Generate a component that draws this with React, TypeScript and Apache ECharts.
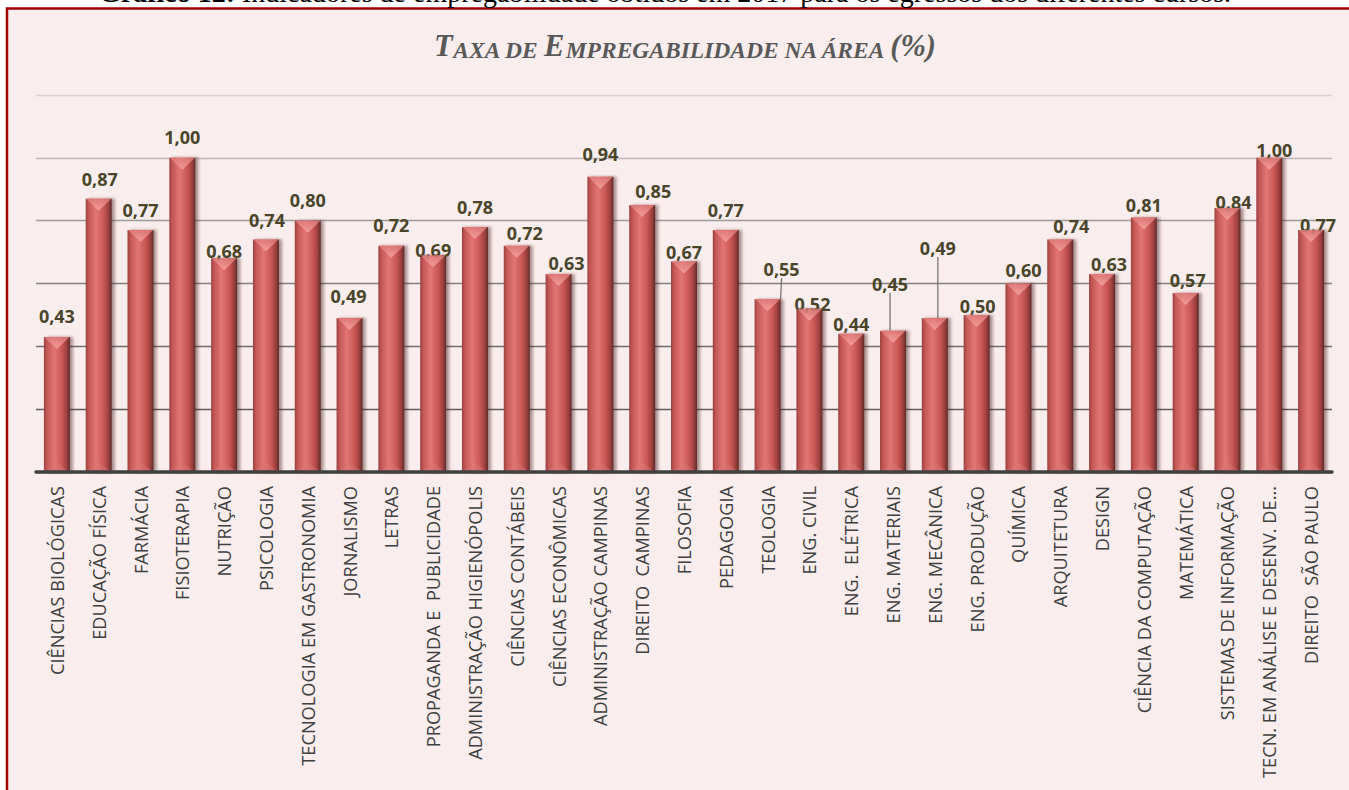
import React, { useEffect, useRef } from "react";
import * as echarts from "echarts";

const categories = [
  "CIÊNCIAS BIOLÓGICAS",
  "EDUCAÇÃO FÍSICA",
  "FARMÁCIA",
  "FISIOTERAPIA",
  "NUTRIÇÃO",
  "PSICOLOGIA",
  "TECNOLOGIA EM GASTRONOMIA",
  "JORNALISMO",
  "LETRAS",
  "PROPAGANDA E  PUBLICIDADE",
  "ADMINISTRAÇÃO HIGIENÓPOLIS",
  "CIÊNCIAS CONTÁBEIS",
  "CIÊNCIAS ECONÔMICAS",
  "ADMINISTRAÇÃO CAMPINAS",
  "DIREITO  CAMPINAS",
  "FILOSOFIA",
  "PEDAGOGIA",
  "TEOLOGIA",
  "ENG. CIVIL",
  "ENG.  ELÉTRICA",
  "ENG. MATERIAIS",
  "ENG. MECÂNICA",
  "ENG. PRODUÇÃO",
  "QUÍMICA",
  "ARQUITETURA",
  "DESIGN",
  "CIÊNCIA DA COMPUTAÇÃO",
  "MATEMÁTICA",
  "SISTEMAS DE INFORMAÇÃO",
  "TECN. EM ANÁLISE E DESENV. DE...",
  "DIREITO  SÃO PAULO",
];

const values = [
  0.43, 0.87, 0.77, 1.0, 0.68, 0.74, 0.8, 0.49, 0.72, 0.69, 0.78, 0.72, 0.63,
  0.94, 0.85, 0.67, 0.77, 0.55, 0.52, 0.44, 0.45, 0.49, 0.5, 0.6, 0.74, 0.63,
  0.81, 0.57, 0.84, 1.0, 0.77,
];

const yTicks = [0, 0.2, 0.4, 0.6, 0.8, 1.0, 1.2];

// title in small capitals: full-size capitals and reduced capitals
const titleParts: [string, string][] = [
  ["b", "T"],
  ["s", "AXA DE "],
  ["b", "E"],
  ["s", "MPREGABILIDADE NA ÁREA "],
  ["b", "(%)"],
];
const captionBold = "Gráfico 12:";
const captionRest =
  " Indicadores de empregabilidade obtidos em 2017 para os egressos dos diferentes cursos.";

// label nudges (pixels) reproducing the reference's label placement
const labelDx = [0, 1, 0, 0, 0, 1, 0, -1, 0, 0, 0, 8, 8, 0, 11, 0, 0, 14, 3, 0, -3, 3, 1, 5, 11, 7, 0, 2, 6, 5, 7];
const labelDy = [-6.5, -6, -6.5, -7, 7, -6, -7, -8, -7, 9, -6, 1, 3, -9, 0, 4, -6, -16, 9, 4, -33, -56, 5.5, 0, 0, 4, 1, 1.5, 8, 6, 8.5];
const leaderBars = [17, 20, 21];

export default function App() {
  const ref = useRef<HTMLDivElement>(null);

  useEffect(() => {
    if (!ref.current) return;
    const chart = echarts.init(ref.current, null, { renderer: "svg" });

    const barGradient = new echarts.graphic.LinearGradient(0, 0, 1, 0, [
      { offset: 0, color: "#9a4240" },
      { offset: 0.12, color: "#c45856" },
      { offset: 0.4, color: "#e27575" },
      { offset: 0.7, color: "#c85654" },
      { offset: 0.88, color: "#9c403e" },
      { offset: 1, color: "#5e2a29" },
    ]);
    const topGradient = new echarts.graphic.LinearGradient(0, 0, 0, 1, [
      { offset: 0, color: "#f7a8a6" },
      { offset: 1, color: "#e07c7a" },
    ]);

    const titleStyleBase = {
      fontFamily: "Liberation Serif",
      fontStyle: "italic",
      fontWeight: "bold",
      fill: "#595959",
      verticalAlign: "bottom",
    };

    chart.setOption({
      animation: false,
      backgroundColor: "#ffffff",
      graphic: [
        {
          type: "rect",
          z: -10,
          shape: { x: 7, y: 8.5, width: 1500, height: 900 },
          style: { fill: "#F9EDED", stroke: "#A00000", lineWidth: 2.5 },
        },
        {
          type: "text",
          x: 665,
          y: -8,
          style: {
            text: `{b|${captionBold}}{r|${captionRest}}`,
            align: "center",
            verticalAlign: "middle",
            rich: {
              b: { fontFamily: "Liberation Serif", fontSize: 28, fontWeight: "bold", fill: "#000" },
              r: { fontFamily: "Liberation Serif", fontSize: 28, fill: "#000" },
            },
          },
        },
        {
          type: "text",
          x: 685,
          y: 45,
          style: {
            text: titleParts.map(([k, t]) => `{${k}|${t}}`).join(""),
            align: "center",
            verticalAlign: "middle",
            rich: {
              b: { ...titleStyleBase, fontSize: 30.5, lineHeight: 32 },
              s: { ...titleStyleBase, fontSize: 23.5, lineHeight: 29.5 },
            },
          },
        },
      ],
      grid: { left: 36, right: 17, top: 95, bottom: 318, containLabel: false },
      xAxis: {
        type: "category",
        data: categories,
        axisTick: { show: false },
        axisLine: { show: true, lineStyle: { color: "#404040", width: 3.5 } },
        axisLabel: {
          interval: 0,
          rotate: 90,
          margin: 14,
          color: "#404040",
          fontFamily: "Open Sans",
          fontSize: 18.2,
        },
        z: 5,
      },
      yAxis: {
        type: "value",
        min: yTicks[0],
        max: yTicks[yTicks.length - 1],
        interval: 0.2,
        axisLabel: { show: false },
        axisLine: { show: false },
        axisTick: { show: false },
        splitLine: {
          show: true,
          lineStyle: {
            width: 1.3,
            color: ["#404040", "#615d5d", "#726e6e", "#858181", "#a19c9c", "#bdb7b7", "#dad3d3"],
          },
        },
      },
      series: [
        {
          type: "bar",
          data: values.map((v, i) => ({
            value: v,
            labelLine: { show: leaderBars.includes(i) },
          })),
          barWidth: 26,
          itemStyle: {
            color: barGradient,
            shadowColor: "rgba(70,30,30,0.45)",
            shadowBlur: 3,
            shadowOffsetX: 3,
            shadowOffsetY: 0,
          },
          label: {
            show: true,
            position: "top",
            distance: 5,
            color: "#4A452A",
            fontFamily: "Open Sans",
            fontWeight: "bold",
            fontSize: 18,
            formatter: (p: any) => Number(p.value).toFixed(2).replace(".", ","),
          },
          labelLine: {
            show: false,
            lineStyle: { color: "#6f6f6f", width: 1.2 },
          },
          labelLayout: (p: any) => ({ dx: labelDx[p.dataIndex], dy: labelDy[p.dataIndex] }),
          z: 2,
        },
        {
          type: "scatter",
          data: values,
          symbol: "triangle",
          symbolRotate: 180,
          symbolSize: [25, 12],
          symbolOffset: [0, "50%"],
          itemStyle: { color: topGradient },
          silent: true,
          z: 3,
        },
        {
          type: "scatter",
          data: values.map(() => 0),
          symbol: "triangle",
          symbolSize: [25, 10],
          symbolOffset: [0, "-50%"],
          itemStyle: { color: "rgba(214,120,118,0.55)" },
          silent: true,
          z: 3,
        },
      ],
    });

    return () => chart.dispose();
  }, []);

  return (
    <div
      ref={ref}
      style={{ position: "absolute", left: 0, top: 0, width: 1349, height: 790, background: "#fff" }}
    />
  );
}
